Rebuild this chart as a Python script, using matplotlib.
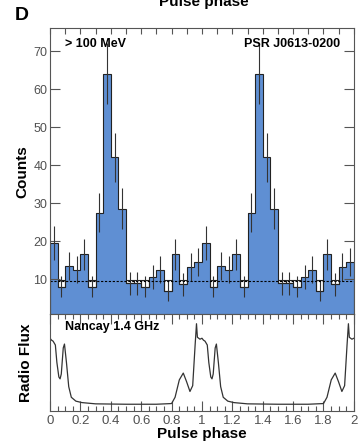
import numpy as np
import matplotlib
matplotlib.use('Agg')
import matplotlib.pyplot as plt
from matplotlib.ticker import MultipleLocator

plt.rcParams['font.family'] = ['Liberation Sans', 'DejaVu Sans']

# gamma-ray counts per 0.05 phase bin (one rotation, shown twice)
counts_one = [19.5, 8.0, 13.5, 12.5, 16.5, 8.0, 27.5, 64.0, 42.0, 28.5,
              8.9, 8.9, 8.0, 10.5, 12.5, 6.8, 16.5, 8.6, 13.2, 14.5]
counts = counts_one + counts_one
background = 9.4
box_base = 9.8

# radio profile (phase, relative flux) for one rotation
radio_phase = [0, 0.01, 0.02, 0.035, 0.045, 0.058, 0.066, 0.074, 0.087, 0.095,
               0.108, 0.123, 0.14, 0.17, 0.21, 0.3, 0.5, 0.7, 0.8, 0.823,
               0.851, 0.877, 0.899, 0.921, 0.939, 0.955, 0.964, 0.97, 0.987]
radio_flux = [0.75, 0.73, 0.72, 0.68, 0.5, 0.35, 0.33, 0.38, 0.65, 0.69,
              0.5, 0.25, 0.14, 0.10, 0.085, 0.072, 0.068, 0.068, 0.075, 0.14,
              0.32, 0.39, 0.30, 0.20, 0.26, 0.68, 0.90, 0.76, 0.74]

blue = '#5f8fd3'
frame = '#555555'
labcol = '#505050'

fig = plt.figure(figsize=(3.6, 4.48), dpi=100)
ax1 = fig.add_axes([0.139, 0.299, 0.844, 0.638])
ax2 = fig.add_axes([0.139, 0.083, 0.844, 0.216])

# top panel: histogram
width = 0.05
edges = np.arange(len(counts) + 1) * width
centers = edges[:-1] + width / 2
c = np.array(counts)
ax1.bar(centers, np.maximum(c, box_base), width=width, color=blue, linewidth=0)
low = c < box_base
ax1.bar(centers[low], box_base - c[low], bottom=c[low], width=width,
        color='white', edgecolor='#222222', linewidth=0.8)
ax1.stairs(c, edges, color='#222222', linewidth=0.8)
ax1.errorbar(centers, c, yerr=np.sqrt(c), fmt='none', ecolor='#333333',
             elinewidth=0.8, capsize=0)
ax1.axhline(background, color='black', linestyle=(0, (2, 1.5)), linewidth=0.8)

ax1.set_xlim(0, 2)
ax1.set_ylim(0.8, 76)
ax1.set_yticks([10, 20, 30, 40, 50, 60, 70])
ax1.xaxis.set_major_locator(MultipleLocator(0.1))
ax1.tick_params(axis='y', direction='in', length=7, width=0.8, color=frame,
                right=True, labelsize=9, labelcolor=labcol, pad=2)
ax1.tick_params(axis='x', direction='in', length=4, width=0.8, color=frame,
                top=True, bottom=False, labelbottom=False)
ax1.set_ylabel('Counts', fontsize=11, fontweight='bold', labelpad=3)
for s in ax1.spines.values():
    s.set_color(frame)
ax1.text(0.05, 0.965, '> 100 MeV', transform=ax1.transAxes, fontsize=9,
         fontweight='bold', va='top')
ax1.text(0.955, 0.965, 'PSR J0613-0200', transform=ax1.transAxes, fontsize=9,
         fontweight='bold', va='top', ha='right')

# bottom panel: radio profile
ph = np.array(radio_phase)
fl = np.array(radio_flux)
ax2.plot(np.concatenate([ph, ph + 1, [2.0]]), np.concatenate([fl, fl, [fl[0]]]),
         color='#333333', linewidth=0.9)
ax2.set_xlim(0, 2)
ax2.set_ylim(0, 1)
ax2.set_yticks([])
ax2.xaxis.set_minor_locator(MultipleLocator(0.05))
ax2.tick_params(axis='x', which='major', direction='in', length=7, width=0.8,
                color=frame, top=True, labelsize=9.5, labelcolor=labcol, pad=3)
ax2.tick_params(axis='x', which='minor', direction='in', length=3.5, width=0.8,
                color=frame, top=True)
ax2.set_xticks([0, 0.2, 0.4, 0.6, 0.8, 1, 1.2, 1.4, 1.6, 1.8, 2])
ax2.set_xticklabels(['0', '0.2', '0.4', '0.6', '0.8', '1', '1.2', '1.4',
                     '1.6', '1.8', '2'])
for s in ax2.spines.values():
    s.set_color(frame)
ax2.set_xlabel('Pulse phase', fontsize=11, fontweight='bold', labelpad=0)
ax2.set_ylabel('Radio Flux', fontsize=11, fontweight='bold', labelpad=12)
ax2.text(0.05, 0.93, 'Nancay 1.4 GHz', transform=ax2.transAxes, fontsize=9,
         fontweight='bold', va='top')

fig.text(0.04, 0.965, 'D', fontsize=14, fontweight='bold', va='center')
# title of the panel above, cut off at the top edge as in the source figure
fig.text(0.565, 1 - 6 / 448, 'Pulse phase', fontsize=11, fontweight='bold',
         ha='center', va='baseline')

fig.savefig('out.png', dpi=100)
